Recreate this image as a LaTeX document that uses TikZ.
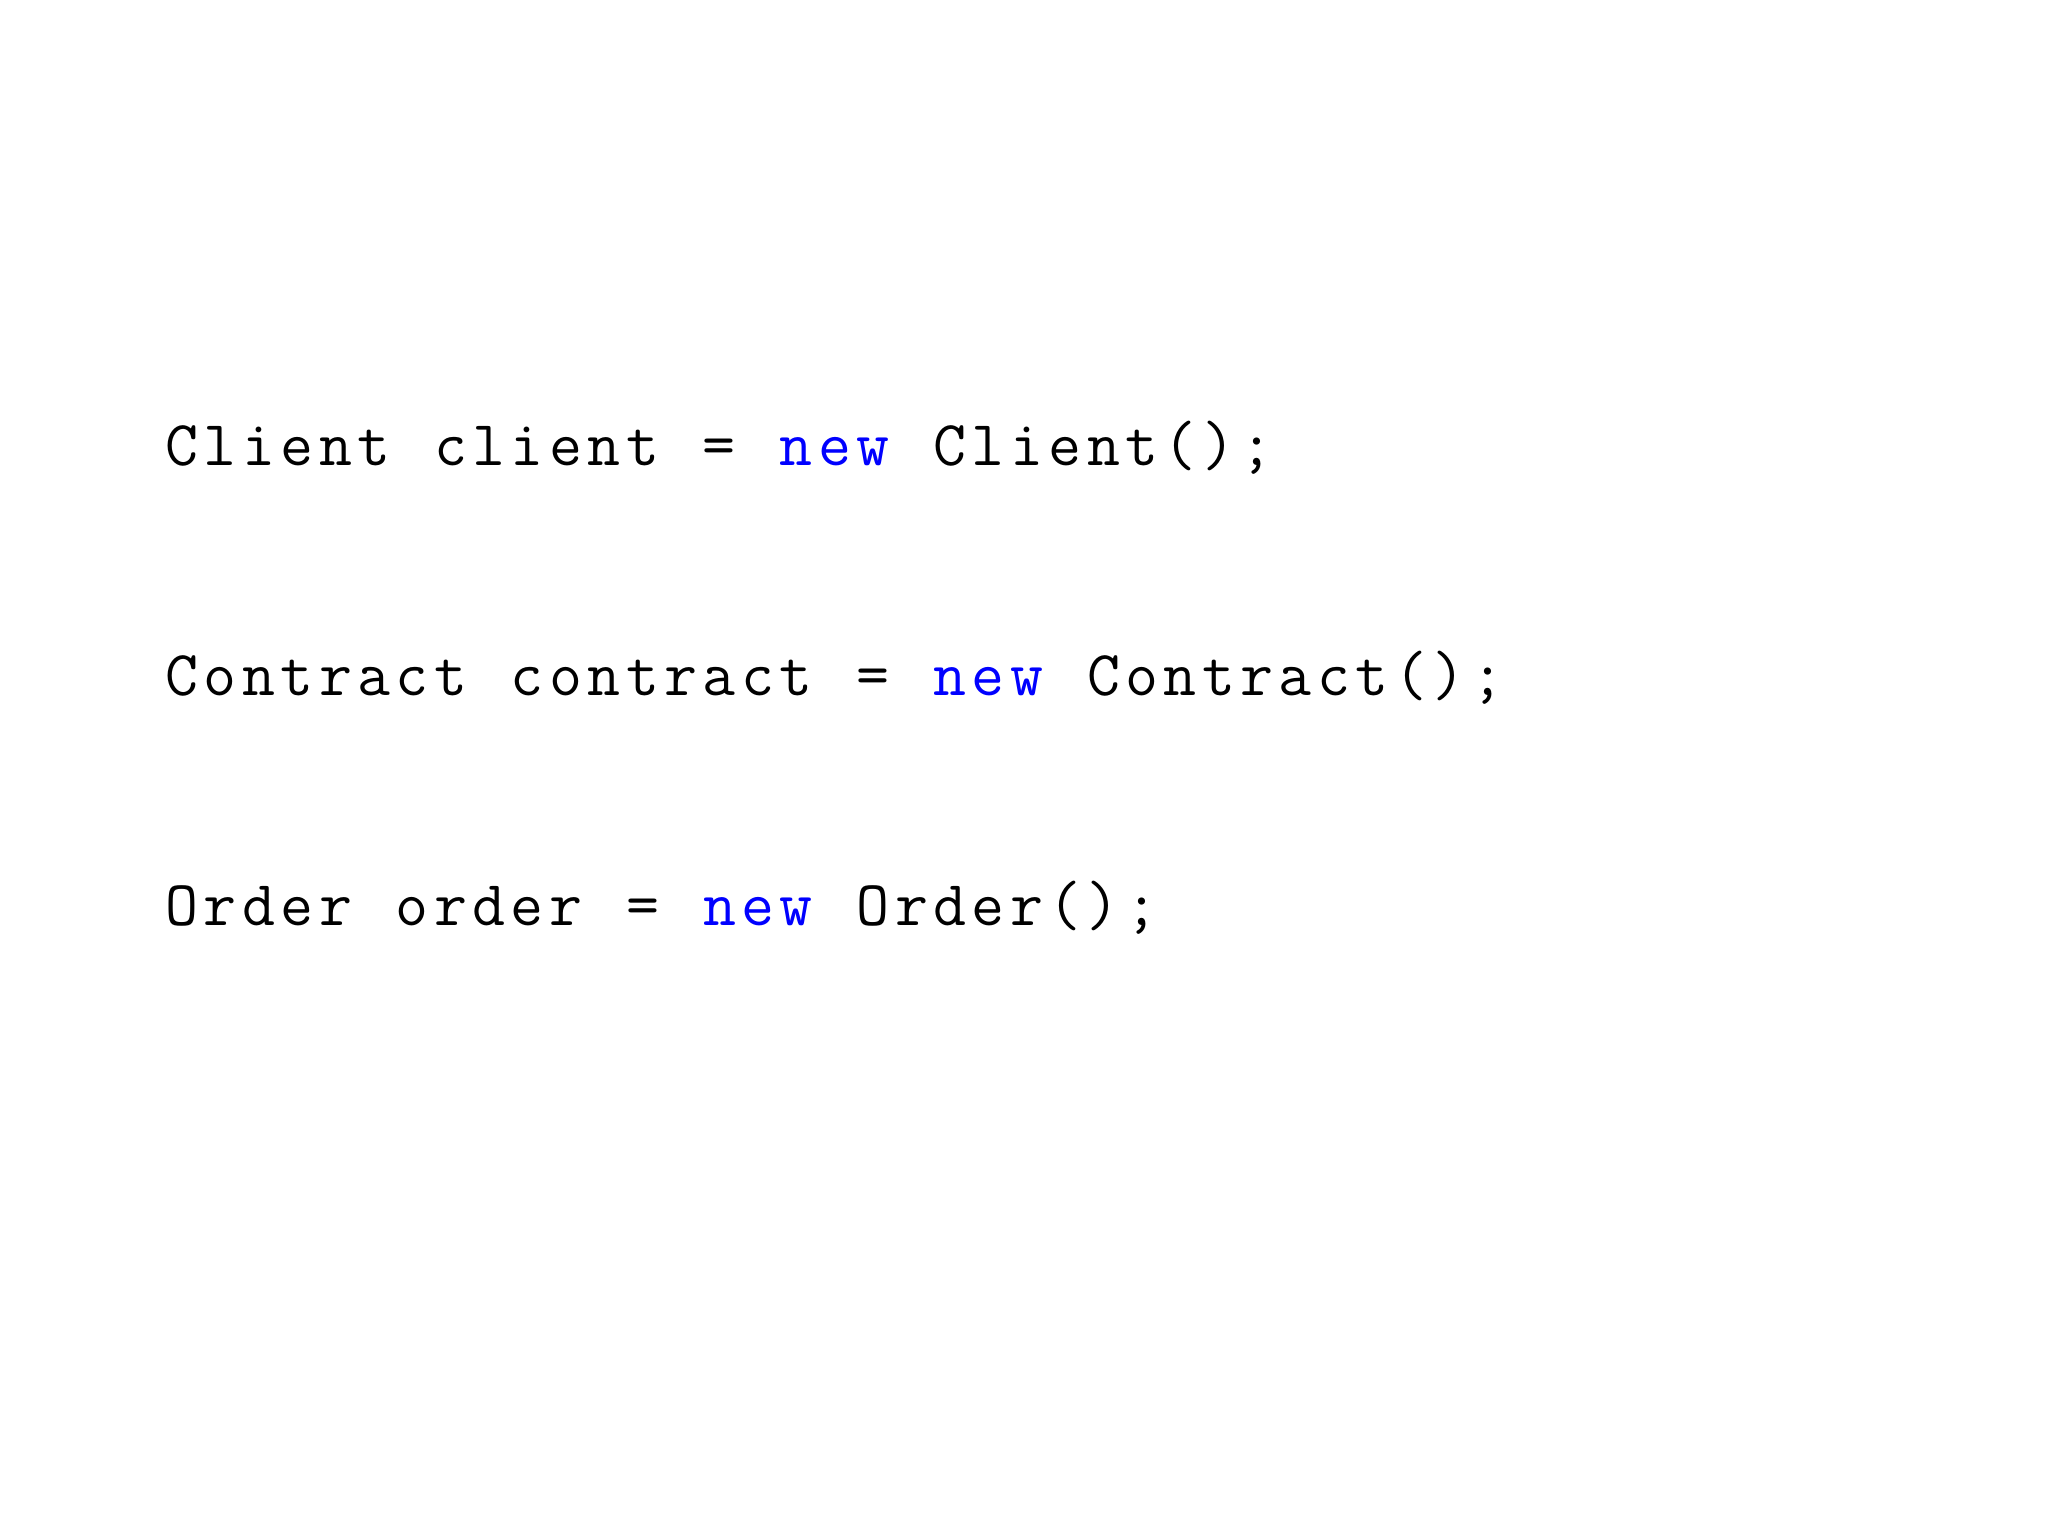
\documentclass[tikz,border=0pt]{standalone}
\usepackage{xcolor}
\makeatletter
\newcommand\spaced[1]{\@tfor\tmpch:=#1\do{\makebox[3.84mm][c]{\tmpch}}}
\makeatother
\newcommand\kw[1]{\textcolor{blue}{\spaced{#1}}}
\tikzset{codeline/.style={anchor=base west,inner sep=0pt,font=\ttfamily\fontsize{18.2}{20}\selectfont}}
\begin{document}
\begin{tikzpicture}
\useasboundingbox (0,0) rectangle (20.48,15.36);
\node[codeline] (l1) at (1.62,10.70) {\spaced{Client~client~=~}\kw{new}\spaced{~Client();}};
\node[codeline] (l2) at (1.62,8.40) {\spaced{Contract~contract~=~}\kw{new}\spaced{~Contract();}};
\node[codeline] (l3) at (1.62,6.10) {\spaced{Order~order~=~}\kw{new}\spaced{~Order();}};
\end{tikzpicture}
\end{document}
